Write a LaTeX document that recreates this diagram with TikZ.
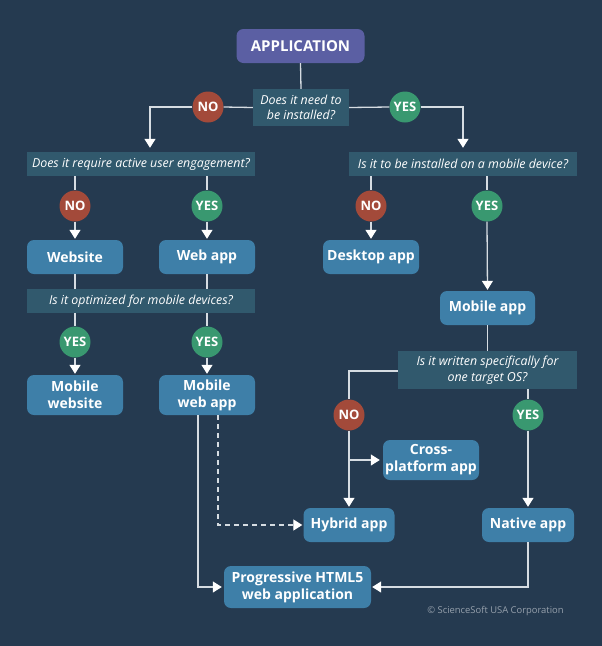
\documentclass[tikz,border=0pt]{standalone}
\usepackage{fontspec}
\setmainfont{Open Sans}
\usetikzlibrary{arrows.meta,calc}
\definecolor{bgcol}{RGB}{37,58,80}
\definecolor{qcol}{RGB}{49,89,109}
\definecolor{boxcol}{RGB}{62,127,168}
\definecolor{appcol}{RGB}{91,95,163}
\definecolor{nocol}{RGB}{163,74,58}
\definecolor{yescol}{RGB}{57,152,112}
\definecolor{linecol}{RGB}{214,220,226}
\definecolor{copycol}{RGB}{150,160,172}
\tikzset{
  box/.style={fill=boxcol, rounded corners=7pt, text=white, align=center, inner sep=0pt,
    font=\bfseries\fontsize{14}{17}\selectfont},
  appbox/.style={box, fill=appcol, font=\bfseries\fontsize{15}{17}\selectfont},
  qbox/.style={fill=qcol, text=white, align=center, inner sep=0pt,
    font=\itshape\fontsize{12.4}{15.5}\selectfont},
  nobub/.style={circle, fill=nocol, minimum size=31pt, inner sep=0pt, text=white,
    font=\bfseries\fontsize{13}{13}\selectfont},
  yesbub/.style={nobub, fill=yescol},
  ln/.style={draw=linecol, line width=1.3pt},
  arr/.style={ln, -{Triangle[width=11pt,length=9pt,color=white,fill=white]}, shorten >=1pt},
  dasharr/.style={arr, dash pattern=on 5pt off 4pt},
}
\begin{document}
\begin{tikzpicture}[x=1pt,y=-1pt]
\fill[bgcol] (0,0) rectangle (602,646);
\useasboundingbox (0,0) rectangle (602,646);

% nodes
\node[appbox, minimum width=128pt, minimum height=34pt] (app) at (300.5,46) {APPLICATION};
\node[qbox, minimum width=96pt, minimum height=37pt] (q1) at (301,107.5) {Does it need to\\be installed?};
\node[nobub] (no1) at (208,107) {NO};
\node[yesbub] (yes1) at (405,107) {YES};

\node[qbox, minimum width=228pt, minimum height=24pt] (q2) at (141,164) {Does it require active user engagement?};
\node[qbox, minimum width=228pt, minimum height=24pt] (q3) at (463,164) {Is it to be installed on a mobile device?};

\node[nobub] (no2) at (75,206) {NO};
\node[yesbub] (yes2) at (207,206) {YES};
\node[nobub] (no3) at (371,206) {NO};
\node[yesbub] (yes3) at (487,206) {YES};

\node[box, minimum width=96pt, minimum height=34pt] (website) at (75,257) {Website};
\node[box, minimum width=96pt, minimum height=34pt] (webapp) at (207,257) {Web app};
\node[box, minimum width=96pt, minimum height=34pt] (desktop) at (371,257) {Desktop app};
\node[box, minimum width=95pt, minimum height=34pt] (mobileapp) at (487.5,308) {Mobile app};

\node[qbox, minimum width=228pt, minimum height=24pt] (q4) at (141,301) {Is it optimized for mobile devices?};
\node[yesbub] (yes4) at (75,342) {YES};
\node[yesbub] (yes5) at (207,342) {YES};

\node[box, minimum width=96pt, minimum height=40pt] (mweb) at (75,395) {Mobile\\website};
\node[box, minimum width=96pt, minimum height=40pt] (mwebapp) at (207,395) {Mobile\\web app};

\node[qbox, minimum width=179pt, minimum height=38pt] (q5) at (487.5,370) {Is it written specifically for\\one target OS?};
\node[nobub] (no6) at (349,415) {NO};
\node[yesbub] (yes6) at (528,415) {YES};

\node[box, minimum width=96pt, minimum height=40pt] (cross) at (431,460) {Cross-\\platform app};
\node[box, minimum width=91pt, minimum height=34pt] (hybrid) at (349,525) {Hybrid app};
\node[box, minimum width=92pt, minimum height=34pt] (native) at (528,525) {Native app};
\node[box, minimum width=147pt, minimum height=42pt] (pwa) at (297.5,587) {Progressive HTML5\\web application};

\node[text=copycol, font=\fontsize{9.4}{10}\selectfont] (copy) at (495.5,611) {© ScienceSoft USA Corporation};

% connectors
\draw[ln] (app.south) -- (q1.north);
\draw[ln] (q1.west) -- (no1.east);
\draw[arr, shorten >=4pt] (no1.west) -| ([xshift=9pt]q2.north);
\draw[ln] (q1.east) -- (yes1.west);
\draw[arr, shorten >=4pt] (yes1.east) -| (q3.north);

\draw[ln] (q2.south -| no2) -- (no2.north);
\draw[arr] (no2.south) -- (website.north);
\draw[ln] (q2.south -| yes2) -- (yes2.north);
\draw[arr] (yes2.south) -- (webapp.north);
\draw[ln] (q3.south -| no3) -- (no3.north);
\draw[arr] (no3.south) -- (desktop.north);
\draw[ln] (q3.south -| yes3) -- (yes3.north);
\draw[arr] (yes3.south) -- (mobileapp.north);

\draw[ln] (website.south) -- (q4.north -| website);
\draw[ln] (webapp.south) -- (q4.north -| webapp);
\draw[ln] (q4.south -| yes4) -- (yes4.north);
\draw[arr] (yes4.south) -- (mweb.north);
\draw[ln] (q4.south -| yes5) -- (yes5.north);
\draw[arr] (yes5.south) -- (mwebapp.north);

\draw[ln] (mobileapp.south) -- (q5.north -| mobileapp);
\draw[ln] ([yshift=-1pt]q5.west) -| (no6.north);
\draw[arr] (no6.south) -- (hybrid.north);
\coordinate (br) at (no6 |- cross);
\draw[arr, shorten >=3pt] (br) -- (cross.west);
\draw[ln] (q5.south -| yes6) -- (yes6.north);
\draw[arr] (yes6.south) -- (native.north);

\draw[arr, shorten >=2pt] ([xshift=-9pt]mwebapp.south) |- (pwa.west);
\draw[dasharr] ([xshift=11pt]mwebapp.south) |- (hybrid.west);
\draw[arr] (native.south) |- (pwa.east);
\end{tikzpicture}
\end{document}
